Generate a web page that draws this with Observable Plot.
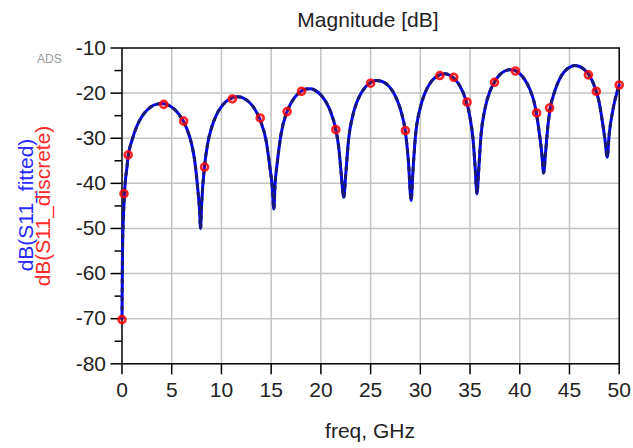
<!DOCTYPE html>
<html><head><meta charset="utf-8">
<script src="https://cdn.jsdelivr.net/npm/d3@7"></script>
<script src="https://cdn.jsdelivr.net/npm/@observablehq/plot@0.6"></script>
<style>body{margin:0;background:#fff;} svg{display:block}</style>
</head><body><div id="chart"></div>
<script>
// Fitted curve (blue line)
const fitFreq = [0, 0.05, 0.25, 0.5, 0.62, 1.0, 1.5, 2.0, 2.5, 3.0, 3.5, 4.0, 4.5, 5.0, 5.5, 6.0, 6.2, 6.5, 7.0, 7.3, 7.6, 7.8, 7.9,
  8.0, 8.3, 8.6, 9.0, 9.5, 10.0, 10.5, 11.0, 11.5, 12.0, 12.5, 13.0, 13.5, 14.0, 14.5, 14.9, 15.1, 15.27,
  15.4, 15.6, 16.0, 16.6, 17.0, 17.5, 18.0, 18.5, 19.0, 19.5, 20.0, 20.5, 21.0, 21.5, 21.8, 22.05, 22.3,
  22.5, 22.8, 23.2, 23.6, 24.0, 24.5, 25.0, 25.5, 26.0, 26.5, 27.0, 27.5, 28.0, 28.5, 28.8, 29.08,
  29.25, 29.5, 30.0, 30.5, 31.0, 31.5, 32.0, 32.5, 33.0, 33.5, 34.0, 34.5, 35.0, 35.3, 35.5, 35.7,
  35.85, 36.1, 36.5, 37.0, 37.5, 38.0, 38.5, 39.0, 39.5, 40.0, 40.5, 41.0, 41.5, 42.0, 42.2, 42.4,
  42.6, 42.8, 43.0, 43.5, 44.0, 44.5, 45.0, 45.5, 46.0, 46.5, 47.0, 47.5, 48.0, 48.3, 48.55, 48.8,
  49.0, 49.3, 49.6, 50.0];
const fitDb = [-70, -55, -42.3, -36.4, -34.0, -30.5, -27.3, -25.2, -23.8, -22.9, -22.45, -22.3, -22.5, -23.1, -24.1, -25.6, -26.3, -27.8, -31.3, -34.8, -40.8, -46, -50,
  -45, -36.2, -31.4, -27.7, -24.8, -23.0, -21.8, -21.1, -20.8, -20.9, -21.5, -22.5, -24.1, -26.6, -30.6, -36.9, -40.5, -45.7,
  -40, -35.7, -29.0, -24.1, -22.2, -20.6, -19.6, -19.1, -19.05, -19.5, -20.4, -21.9, -24.25, -28.05, -32.1, -38, -43.1,
  -38, -30.0, -25.05, -22.1, -20.2, -18.6, -17.65, -17.2, -17.3, -17.8, -18.9, -20.7, -23.6, -28.6, -35, -43.8,
  -37.6, -29.8, -23.2, -19.8, -17.75, -16.5, -15.9, -15.7, -16.1, -17.0, -18.5, -21.05, -25.4, -30.2, -36, -42.3,
  -37.8, -29.4, -23.5, -19.6, -17.4, -15.9, -15.1, -14.8, -14.95, -15.7, -17.0, -19.1, -22.5, -29.4, -33, -37.7,
  -33, -28, -24.2, -19.7, -16.9, -15.2, -14.3, -13.9, -14.1, -14.8, -16.1, -18.4, -22.2, -26.2, -30, -34.2,
  -29, -24.5, -21.3, -18.2];

// Discrete samples (red circles)
const discFreq = [0, 0.2, 0.62, 4.2, 6.2, 8.3, 11.1, 13.9, 16.6, 18.05, 21.5, 25.0, 28.5, 31.96, 33.37, 34.7, 37.46, 39.57, 41.7, 43.0, 46.9, 47.7, 50.0];
const discDb = [-70.2, -42.3, -33.7, -22.5, -26.2, -36.4, -21.3, -25.5, -24.1, -19.6, -28.1, -17.8, -28.3, -16.1, -16.5, -22.0, -17.6, -15.1, -24.4, -23.3, -15.95, -19.6, -18.2];

// Ticks
const xTicks = [0, 5, 10, 15, 20, 25, 30, 35, 40, 45, 50];
const yTicks = [-80, -70, -60, -50, -40, -30, -20, -10];
const yMinorTicks = [-75, -65, -55, -45, -35, -25, -15];
const xGrid = [5, 10, 15, 20, 25, 30, 35, 40, 45];
const yGrid = [-70, -60, -50, -40, -30, -20];

const fit = fitFreq.map((f, i) => ({f, db: fitDb[i]}));
const disc = discFreq.map((f, i) => ({f, db: discDb[i]}));

const font = "'Liberation Sans', Arial, sans-serif";
const chart = Plot.plot({
  width: 633, height: 448,
  marginTop: 47.5, marginBottom: 84.7, marginLeft: 121.5, marginRight: 14.3,
  style: {fontFamily: font, background: "#fff", color: "#222"},
  x: {domain: [0, 50]},
  y: {domain: [-80, -10]},
  marks: [
    Plot.gridX(xGrid, {stroke: "#c4c4c4", strokeOpacity: 1, strokeWidth: 1.5}),
    Plot.gridY(yGrid, {stroke: "#c4c4c4", strokeOpacity: 1, strokeWidth: 1.5}),
    Plot.axisX(xTicks, {tickSize: 11, tickPadding: 7, fontSize: 21, strokeWidth: 1.5, label: null, tickFormat: d => String(d), fill: "#222", stroke: "#000"}),
    Plot.axisY(yTicks, {tickSize: 11, tickPadding: 5, fontSize: 21, strokeWidth: 1.5, label: null, tickFormat: d => String(d), fill: "#222", stroke: "#000"}),
    Plot.axisY(yMinorTicks, {tickSize: 7, strokeWidth: 1.5, label: null, tickFormat: () => "", stroke: "#000"}),
    Plot.frame({stroke: "#000", strokeWidth: 1.5}),
    Plot.line(fit, {x: "f", y: "db", stroke: "#0000ff", strokeWidth: 3, curve: "monotone-x"}),
    Plot.line(fit, {x: "f", y: "db", stroke: "#1a1a70", strokeWidth: 3, strokeDasharray: "3,6", curve: "monotone-x"}),
    Plot.dot(disc, {x: "f", y: "db", r: 3.6, stroke: "#ff0000", strokeWidth: 2.4, strokeOpacity: 0.85, fill: "#ff0000", fillOpacity: 0.25})
  ]
});
document.getElementById("chart").appendChild(chart);

const svg = d3.select(chart);
const addText = (txt, x, y, size, fill, anchor, rot) => {
  const t = svg.append("text").text(txt)
    .attr("font-family", font).attr("font-size", size)
    .attr("fill", fill).attr("text-anchor", anchor);
  if (rot) t.attr("transform", `translate(${x},${y}) rotate(${rot})`);
  else t.attr("x", x).attr("y", y);
};
addText("Magnitude [dB]", 368, 27, 21, "#222", "middle");
addText("ADS", 37, 63, 12, "#999", "start");
addText("freq, GHz", 370, 437.5, 21, "#222", "middle");
addText("dB(S11_fitted)", 33, 205, 21, "#2a2aff", "middle", -90);
addText("dB(S11_discrete)", 50, 206, 21, "#ff2a2a", "middle", -90);
</script></body></html>
